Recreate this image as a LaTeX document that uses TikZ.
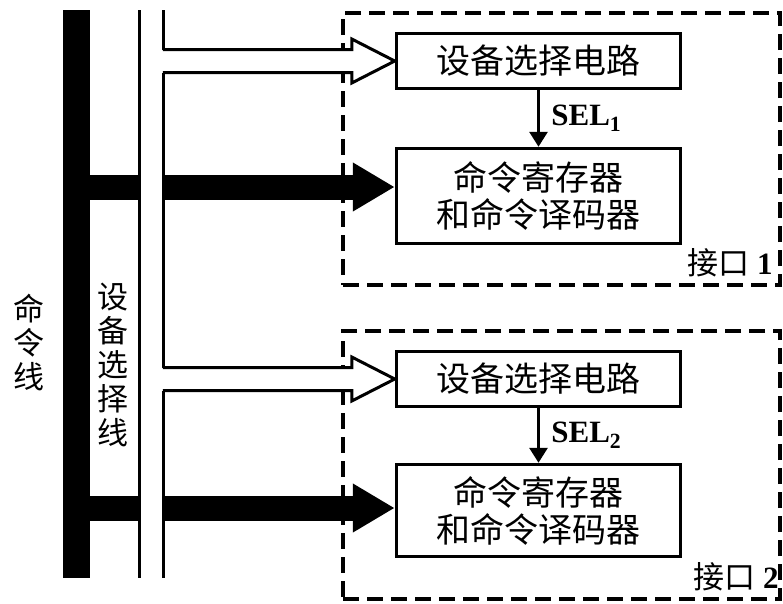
\documentclass[tikz,border=0pt]{standalone}
\usepackage{fontspec}
\setmainfont{Liberation Serif}
\newfontfamily\cjk{Noto Sans CJK SC}
\usetikzlibrary{arrows.meta,calc}

\begin{document}
\begin{tikzpicture}[x=1pt, y=-1pt, line join=miter,
	unitbox/.style={draw, line width=3.5pt, minimum width=284pt, inner sep=0pt, align=center, font=\cjk\fontsize{34}{37}\selectfont},
	port/.style={draw, line width=3.5pt, dash pattern=on 16pt off 8pt, inner sep=0pt},
	fatbus/.style={line width=25pt, -{Triangle[length=42pt,width=46pt]}},
	hollow/.style={draw, fill=white, line width=3pt},
	thinbus/.style={line width=3pt},
	selarrow/.style={line width=3pt, -{Triangle[length=15pt,width=18pt]}},
	sellabel/.style={midway, right=8pt, font=\bfseries\fontsize{31}{33}\selectfont},
	portlabel/.style={anchor=south east, inner sep=0pt, font=\bfseries\fontsize{31}{33}\selectfont},
	vlabel/.style={align=center, inner sep=0pt, font=\cjk\fontsize{31}{34}\selectfont}]

\useasboundingbox (0,0) rectangle (783,603);

\node[port, minimum width=437pt, minimum height=272pt] (if1) at (561.5,149) {};
\node[port, minimum width=437pt, minimum height=268pt] (if2) at (561.5,465) {};

\node[unitbox, minimum height=55pt] (sel1) at (538.5,61) {设备选择电路};
\node[unitbox, minimum height=95pt] (cmd1) at (538.5,196) {命令寄存器\\和命令译码器};
\node[unitbox, minimum height=55pt] (sel2) at (538.5,379) {设备选择电路};
\node[unitbox, minimum height=92pt] (cmd2) at (538.5,510.5) {命令寄存器\\和命令译码器};

\draw[selarrow] (sel1) -- (cmd1) node[sellabel] {SEL\textsubscript{1}};
\draw[selarrow] (sel2) -- (cmd2) node[sellabel] {SEL\textsubscript{2}};

\node[portlabel] (port1) at ($(if1.south east)+(-9,-10)$) {{\cjk\mdseries 接口} 1};
\node[portlabel] (port2) at ($(if2.south east)+(-3,-10)$) {{\cjk\mdseries 接口} 2};

\coordinate (ctop) at (76,10);
\coordinate (cbot) at (76,578);
\coordinate (f1) at (76,187);
\coordinate (f2) at (76,508);
\draw[line width=27pt] (ctop) -- (cbot);
\draw[fatbus] (f1) -- (f1 -| cmd1.west);
\draw[fatbus] (f2) -- (f2 -| cmd2.west);

\fill[white] (139,10) rectangle (163,578);
\draw[thinbus] (139,10) -- (139,578);
\draw[thinbus] (163,10) -- (163,49.5) (163,72.5) -- (163,367.5) (163,390.5) -- (163,578);
\draw[hollow] ($(sel1.west)+(-232,-11.5)$) -- ++(189,0) -- ++(0,-10.5) -- (sel1.west) -- ++(-43,22) -- ++(0,-10.5) -- ++(-189,0);
\draw[hollow] ($(sel2.west)+(-232,-11.5)$) -- ++(189,0) -- ++(0,-10.5) -- (sel2.west) -- ++(-43,22) -- ++(0,-10.5) -- ++(-189,0);

\node[vlabel] (cmdline) at (29,342) {命\\令\\线};
\node[vlabel] (selline) at (113,365) {设\\备\\选\\择\\线};

\end{tikzpicture}
\end{document}
